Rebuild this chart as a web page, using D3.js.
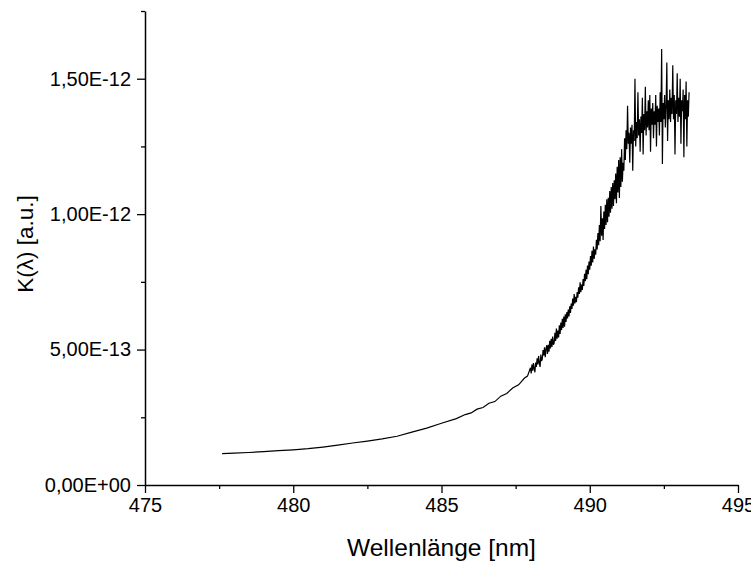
<!DOCTYPE html>
<html>
<head>
<meta charset="utf-8">
<script src="https://cdn.jsdelivr.net/npm/d3@7"></script>
<style>
  html, body { margin: 0; padding: 0; background: #fff; }
  svg { display: block; }
  text { font-family: Arial, "Liberation Sans", sans-serif; fill: #000; }
</style>
</head>
<body>
<svg id="chart" width="751" height="561"></svg>
<script>
// ---- Data (K in units of 1e-13 a.u.) ----
// smooth low-noise part
const smoothLambda = [477.6, 478.0, 478.5, 479.0, 479.5, 480.0, 480.5, 481.0, 481.5, 482.0, 482.5, 483.0, 483.5, 484.0, 484.5, 485.0, 485.5, 485.8, 486.0, 486.2, 486.4, 486.6, 486.8, 487.0, 487.2, 487.4, 487.6, 487.8, 487.9];
const smoothK      = [1.16, 1.18, 1.20, 1.23, 1.27, 1.30, 1.34, 1.40, 1.47, 1.55, 1.62, 1.70, 1.80, 1.95, 2.10, 2.28, 2.45, 2.60, 2.66, 2.80, 2.86, 3.02, 3.08, 3.28, 3.38, 3.58, 3.70, 3.95, 4.02];

// noisy part sampled every 0.025 nm starting at 488.0 nm
const noisyStart = 488.0;
const noisyStep = 0.025;
const noisyK = [
  4.33, 4.12, 4.45, 4.22, 4.50, 4.30, 4.16, 4.52,
  4.36, 4.68, 4.45, 4.76, 4.50, 4.36, 4.82, 4.58,
  4.66, 4.98, 4.78, 5.08, 4.72, 5.02, 5.16, 4.84,
  5.18, 4.92, 5.32, 5.04, 5.40, 5.10, 5.48, 5.18,
  5.25, 5.62, 5.32, 5.78, 5.40, 5.70, 5.45, 5.90,
  5.58, 6.00, 5.72, 6.14, 5.80, 6.22, 5.84, 6.30,
  6.02, 6.38, 6.15, 6.48, 6.22, 6.60, 6.35, 6.70,
  6.50, 6.88, 6.62, 7.05, 6.70, 6.95, 6.75, 7.12,
  6.92, 7.30, 7.05, 7.48, 7.12, 7.40, 7.20, 7.60,
  7.35, 7.80, 7.52, 7.95, 7.60, 8.10, 7.78, 8.25,
  7.95, 8.45, 8.10, 8.65, 8.22, 8.80, 8.35, 8.70,
  8.50, 9.05, 8.70, 9.30, 8.85, 9.60, 9.00, 10.30,
  9.20, 9.85, 9.05, 10.10, 9.45, 10.35, 9.60, 10.55,
  9.70, 10.60, 9.90, 10.85, 10.05, 11.00, 10.20, 11.15,
  10.30, 11.25, 10.55, 11.50, 10.40, 11.75, 10.80, 12.00,
  10.60, 12.10, 11.00, 12.40, 11.20, 11.90, 11.60, 12.80,
  12.00, 13.10, 12.40, 14.00, 12.60, 13.00, 11.90, 13.20,
  12.60, 13.30, 11.60, 13.10, 12.70, 15.00, 12.50, 13.40,
  12.80, 14.50, 12.90, 13.50, 12.30, 13.60, 13.00, 14.30,
  12.20, 13.70, 13.10, 14.70, 12.90, 13.80, 13.20, 14.20,
  13.10, 14.40, 12.30, 13.90, 13.30, 14.10, 12.80, 13.80,
  13.30, 14.40, 12.50, 14.00, 13.40, 13.90, 12.90, 14.50,
  13.40, 16.10, 11.85, 14.10, 13.50, 14.40, 13.20, 14.00,
  15.60, 12.70, 14.20, 13.50, 14.60, 13.40, 14.30, 13.70,
  15.50, 13.50, 14.40, 12.20, 14.20, 13.70, 15.20, 13.40,
  14.30, 13.60, 15.00, 12.60, 14.20, 13.80, 14.60, 12.10,
  14.40, 13.50, 14.90, 12.50, 14.20, 13.60, 14.50
];
const kUnit = 1e-13;

const xTicks = [475, 480, 485, 490, 495];
const xTickLabels = ["475", "480", "485", "490", "495"];
const xMinorTicks = [477.5, 482.5, 487.5, 492.5];
const yTicks = [0, 5e-13, 1e-12, 1.5e-12];
const yTickLabels = ["0,00E+00", "5,00E-13", "1,00E-12", "1,50E-12"];
const yMinorTicks = [2.5e-13, 7.5e-13, 1.25e-12, 1.75e-12];

const xTitle = "Wellenlänge [nm]";
const yTitle = "K(λ) [a.u.]";

(function () {
  // ---- build series ----
  const series = [];
  smoothLambda.forEach((l, i) => series.push([l, smoothK[i] * kUnit]));
  noisyK.forEach((v, i) => series.push([noisyStart + i * noisyStep, v * kUnit]));

  const svg = d3.select("#chart");
  const mLeft = 145, mRight = 738, mTop = 11, mBottom = 485;

  const x = d3.scaleLinear().domain([475, 495]).range([mLeft, mRight]);
  const y = d3.scaleLinear().domain([0, 1.75e-12]).range([mBottom, mTop]);

  // x axis
  const gx = svg.append("g").attr("transform", `translate(0,${mBottom})`)
    .call(d3.axisBottom(x).tickValues(xTicks).tickFormat((d, i) => xTickLabels[i])
      .tickSize(8).tickSizeOuter(0).tickPadding(5));
  gx.select(".domain").attr("stroke", "#000").attr("stroke-width", 1.5);
  gx.selectAll(".tick line").attr("stroke", "#000").attr("stroke-width", 1.3);
  gx.selectAll(".tick text").attr("font-size", "20px").attr("fill", "#000");
  svg.append("g").attr("transform", `translate(0,${mBottom})`)
    .call(d3.axisBottom(x).tickValues(xMinorTicks).tickFormat("").tickSize(4).tickSizeOuter(0))
    .call(g => g.select(".domain").remove())
    .selectAll(".tick line").attr("stroke", "#000").attr("stroke-width", 1.3);

  // y axis
  const gy = svg.append("g").attr("transform", `translate(${mLeft},0)`)
    .call(d3.axisLeft(y).tickValues(yTicks).tickFormat((d, i) => yTickLabels[i])
      .tickSize(8).tickSizeOuter(0).tickPadding(6));
  gy.select(".domain").attr("stroke", "#000").attr("stroke-width", 1.5);
  gy.selectAll(".tick line").attr("stroke", "#000").attr("stroke-width", 1.3);
  gy.selectAll(".tick text").attr("font-size", "20px").attr("fill", "#000");
  svg.append("g").attr("transform", `translate(${mLeft},0)`)
    .call(d3.axisLeft(y).tickValues(yMinorTicks).tickFormat("").tickSize(4).tickSizeOuter(0))
    .call(g => g.select(".domain").remove())
    .selectAll(".tick line").attr("stroke", "#000").attr("stroke-width", 1.3);

  // titles
  svg.append("text")
    .attr("x", 441.5)
    .attr("y", 556)
    .attr("text-anchor", "middle")
    .attr("font-size", "24.5px")
    .text(xTitle);

  svg.append("text")
    .attr("transform", `translate(33,244) rotate(-90)`)
    .attr("text-anchor", "middle")
    .attr("font-size", "22.5px")
    .text(yTitle);

  // data line
  const line = d3.line().x(d => x(d[0])).y(d => y(d[1]));
  svg.append("path")
    .datum(series)
    .attr("fill", "none")
    .attr("stroke", "#000")
    .attr("stroke-width", 1.2)
    .attr("d", line);
})();
</script>
</body>
</html>
